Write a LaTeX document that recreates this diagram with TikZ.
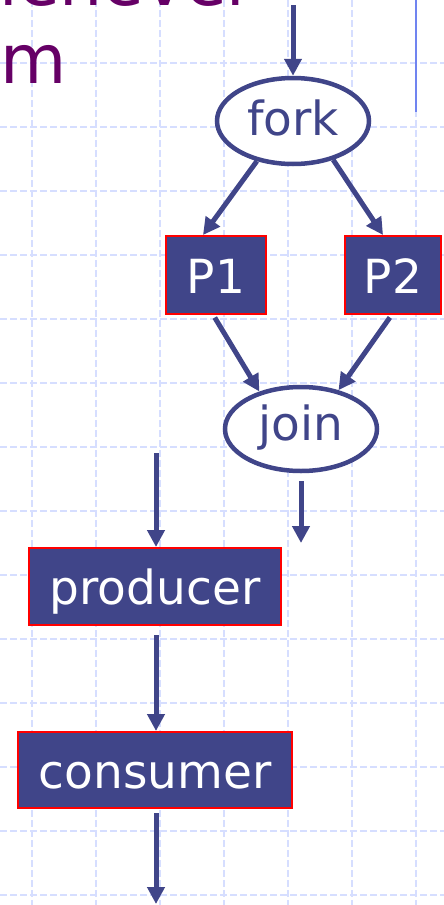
\documentclass[tikz,border=0pt]{standalone}
\usepackage{fontspec}
\setmainfont{DejaVu Sans}
\usetikzlibrary{arrows.meta,shapes.geometric}
\definecolor{navy}{RGB}{64,69,137}
\definecolor{plum}{RGB}{102,0,102}
\definecolor{gridblue}{RGB}{214,222,255}
\definecolor{railblue}{RGB}{112,132,240}
\begin{document}
\begin{tikzpicture}[x=1pt,y=-1pt,
  flow/.style={draw=navy, line width=5pt, -{Triangle[width=17pt,length=17pt]}},
  oval/.style={ellipse, draw=navy, line width=4.5pt, fill=white, text=navy,
    inner sep=0pt, font=\fontsize{47}{50}\selectfont},
  task/.style={rectangle, draw=red, fill=navy, line width=2pt, text=white,
    inner sep=0pt, minimum height=78pt, text height=38pt, text depth=2pt,
    font=\fontsize{47}{50}\selectfont},
  heading/.style={inner sep=0pt, text=plum, font=\fontsize{68}{76}\selectfont},
  gridline/.style={gridblue, line width=1.4pt, dash pattern=on 7pt off 3pt}]
\useasboundingbox (0,0) rectangle (444,905);
\clip (0,0) rectangle (444,905);
\fill[white] (0,0) rectangle (444,905);

% background grid
\foreach \gx in {32,96,...,416}
  \draw[gridline] (\gx,0) -- (\gx,905);
\foreach \gy in {63,127,...,895}
  \draw[gridline] (0,\gy) -- (444,\gy);

% slide rule on the right
\draw[railblue, line width=2pt] (416,0) -- (416,112);

% heading text running off the top left
\node[heading, anchor=base east] (head1) at (255,5) {whenever};
\node[heading, anchor=base west] (head2) at (0,83) {m};

% fork / join structure
\node[oval, minimum width=152pt, minimum height=86pt,
      text height=34pt, text depth=6pt] (fork) at (293,121) {fork};
\node[task, minimum width=100pt] (P1) at (216,275) {P1};
\node[task, minimum width=96pt] (P2) at (393,275) {P2};
\node[oval, minimum width=152pt, minimum height=84pt,
      text height=33pt, text depth=11pt] (join) at (301,429) {join};

% producer / consumer pipeline
\node[task, minimum width=252pt, minimum height=77pt] (prod) at (155,586.5) {producer};
\node[task, minimum width=274pt, minimum height=76pt] (cons) at (155,770) {consumer};

% free ends
\coordinate (forkin) at (293,5);
\coordinate (joinout) at (301,543);
\coordinate (prodin) at (156,453);
\coordinate (consout) at (156,904);

% connectors
\draw[flow] (forkin) -- (forkin |- fork.north);
\draw[flow] (fork.228) -- (P1.108);
\draw[flow] (fork.316) -- (P2.104);
\draw[flow, shorten <=3pt] (P1.266) -- (join.138);
\draw[flow, shorten <=3pt] (P2.268) -- (join.46);
\draw[flow, shorten <=8pt] (join.south) -- (joinout);
\draw[flow] (prodin) -- (prodin |- prod.north);
\draw[flow, shorten <=9pt] (prod.south -| prodin) -- (cons.north -| prodin);
\draw[flow, shorten <=4pt] (cons.south -| consout) -- (consout);
\end{tikzpicture}
\end{document}
